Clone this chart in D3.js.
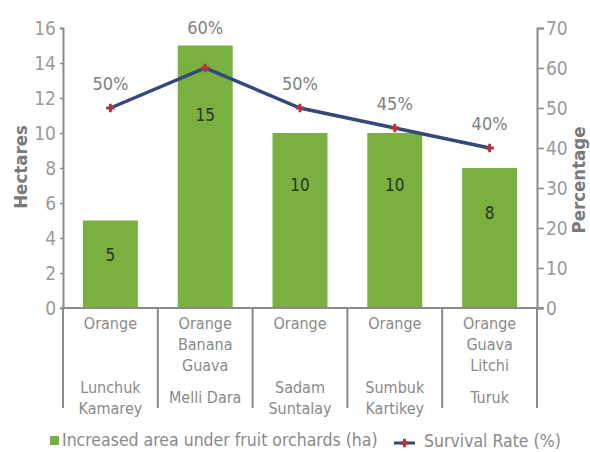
<!DOCTYPE html>
<html><head><meta charset="utf-8">
<script src="https://cdn.jsdelivr.net/npm/d3@7"></script>
<style>
html,body{margin:0;padding:0;background:#fff;}
svg{display:block;}
text{font-family:"DejaVu Sans Condensed","Liberation Sans Narrow",sans-serif;}
</style></head>
<body>
<svg id="chart" width="590" height="452"></svg>
<script>
const villages = [["Lunchuk","Kamarey"],["Melli Dara"],["Sadam","Suntalay"],["Sumbuk","Kartikey"],["Turuk"]];
const fruits = [["Orange"],["Orange","Banana","Guava"],["Orange"],["Orange"],["Orange","Guava","Litchi"]];
const areaHa = [5,15,10,10,8];
const survivalPct = [50,60,50,45,40];
const leftTicks = [0,2,4,6,8,10,12,14,16];
const rightTicks = [0,10,20,30,40,50,60,70];
const legendLabels = ["Increased area under fruit orchards (ha)","Survival Rate (%)"];

const svg = d3.select("#chart");
const m = {l:63, r:53, t:28, b:144};
const W = 590, H = 452;
const x0 = m.l, x1 = W - m.r, yB = H - m.b, yT = m.t;
const idx = d3.range(areaHa.length);

const x = d3.scaleBand().domain(idx).range([x0,x1]).paddingInner(0.42).paddingOuter(0.21);
const xb = d3.scaleBand().domain(idx).range([x0,x1]);
const yL = d3.scaleLinear().domain([0,16]).range([yB,yT]);
const yR = d3.scaleLinear().domain([0,70]).range([yB,yT]);

const gray = "#8a8a8a";
const green = "#79b03f";
const navy = "#34497a";
const red = "#b0343f";

// bars
svg.append("g").selectAll("rect").data(idx).join("rect")
  .attr("x", i=>x(i)).attr("width", x.bandwidth())
  .attr("y", i=>yL(areaHa[i])).attr("height", i=>yB-yL(areaHa[i]))
  .attr("fill", green);

// bar value labels
svg.append("g").selectAll("text").data(idx).join("text")
  .attr("x", i=>x(i)+x.bandwidth()/2)
  .attr("y", i=>{const top=yL(areaHa[i]); const h=yB-top; return top+0.2*h+17+6;})
  .attr("text-anchor","middle").attr("font-size",17).attr("fill","#2b3320")
  .text(i=>areaHa[i]);

// left axis
const gL = svg.append("g").attr("transform",`translate(${x0},0)`)
  .call(d3.axisLeft(yL).tickValues(leftTicks).tickSize(3).tickPadding(4));
gL.select(".domain").attr("stroke",gray).attr("stroke-width",2);
gL.selectAll(".tick line").attr("stroke",gray).attr("stroke-width",1.5);
gL.selectAll(".tick text").attr("font-size",19).attr("fill","#9a9a9a")
  .attr("font-family",'"DejaVu Sans Condensed",sans-serif');

// right axis
const gR = svg.append("g").attr("transform",`translate(${x1},0)`)
  .call(d3.axisRight(yR).tickValues(rightTicks).tickSize(7).tickPadding(2));
gR.select(".domain").attr("stroke",gray).attr("stroke-width",2);
gR.selectAll(".tick line").attr("stroke",gray).attr("stroke-width",1.5);
gR.selectAll(".tick text").attr("font-size",19).attr("fill","#9a9a9a")
  .attr("font-family",'"DejaVu Sans Condensed",sans-serif');

// x axis line
svg.append("line").attr("x1",x0).attr("x2",x1+6).attr("y1",yB).attr("y2",yB)
  .attr("stroke",gray).attr("stroke-width",2);

// separators
const seps = idx.map(i=>xb(i)).concat([x1]);
svg.append("g").selectAll("line").data(seps).join("line")
  .attr("x1",d=>d).attr("x2",d=>d).attr("y1",yB).attr("y2",yB+100)
  .attr("stroke",gray).attr("stroke-width",2);

// fruit labels
const catG = svg.append("g");
idx.forEach(i=>{
  const cx = xb(i)+xb.bandwidth()/2;
  fruits[i].forEach((f,k)=>{
    catG.append("text").attr("x",cx).attr("y",yB+21+k*21)
      .attr("text-anchor","middle").attr("font-size",16).attr("fill","#8a8a8a").text(f);
  });
  const n = villages[i].length;
  villages[i].forEach((v,k)=>{
    catG.append("text").attr("x",cx).attr("y",yB+95+(k-(n-1)/2)*21)
      .attr("text-anchor","middle").attr("font-size",16).attr("fill","#8a8a8a").text(v);
  });
});

// line
const line = d3.line().x(i=>x(i)+x.bandwidth()/2).y(i=>yR(survivalPct[i]));
svg.append("path").datum(idx).attr("d",line).attr("fill","none")
  .attr("stroke",navy).attr("stroke-width",3.5);

// markers
const plus = d3.symbol().type(d3.symbolCross).size(40);
svg.append("g").selectAll("path").data(idx).join("path")
  .attr("transform",i=>`translate(${x(i)+x.bandwidth()/2},${yR(survivalPct[i])})`)
  .attr("d",plus).attr("fill",red);

// pct labels
svg.append("text").remove();
svg.append("g").selectAll("text").data(idx).join("text")
  .attr("x",i=>x(i)+x.bandwidth()/2)
  .attr("y",i=>Math.min(yR(survivalPct[i])-18, yL(areaHa[i])-12))
  .attr("text-anchor","middle").attr("font-size",18).attr("fill","#808080")
  .text(i=>survivalPct[i]+"%");

// axis titles
svg.append("text").attr("transform",`translate(27,167) rotate(-90)`)
  .attr("text-anchor","middle").attr("font-size",18.5).attr("font-weight","bold")
  .attr("fill","#7a7a7a").text("Hectares");
svg.append("text").attr("transform",`translate(585,180) rotate(-90)`)
  .attr("text-anchor","middle").attr("font-size",18.5).attr("font-weight","bold")
  .attr("fill","#7a7a7a").text("Percentage");

// legend
const lg = svg.append("g");
lg.append("rect").attr("x",50).attr("y",436).attr("width",9).attr("height",9).attr("fill",green);
lg.append("text").attr("x",62).attr("y",446).attr("font-size",17.5).attr("fill","#8a8a8a").text(legendLabels[0]);
lg.append("line").attr("x1",394).attr("x2",415).attr("y1",443).attr("y2",443).attr("stroke",navy).attr("stroke-width",3);
lg.append("path").attr("transform","translate(404.5,443)").attr("d",plus).attr("fill",red);
lg.append("text").attr("x",424).attr("y",447).attr("font-size",17.5).attr("fill","#8a8a8a").text(legendLabels[1]);
</script>
</body></html>
